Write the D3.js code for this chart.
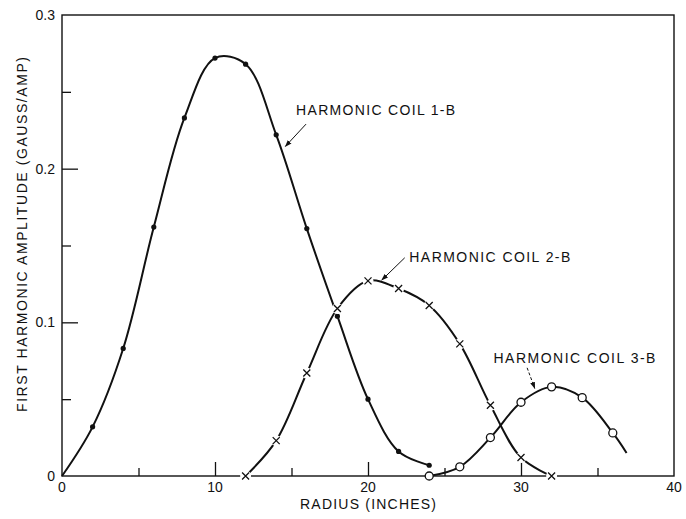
<!DOCTYPE html>
<html>
<head>
<meta charset="utf-8">
<script src="https://cdn.jsdelivr.net/npm/d3@7"></script>
<style>
  body { margin: 0; background: #fff; }
  svg text { font-family: "Liberation Sans", Arial, sans-serif; fill: #111; }
</style>
</head>
<body>
<svg id="chart"></svg>
<script>
// values
const coil1Radius = [0, 2, 4, 6, 8, 10, 12, 14, 16, 18, 20, 22, 24];
const coil1Amp = [0, 0.032, 0.083, 0.162, 0.233, 0.272, 0.268, 0.222, 0.161, 0.104, 0.050, 0.016, 0.007];
const coil1Marked = [false, true, true, true, true, true, true, true, true, true, true, true, true];

const coil2Radius = [12, 14, 16, 18, 20, 22, 24, 26, 28, 30, 32];
const coil2Amp = [0, 0.023, 0.067, 0.109, 0.127, 0.122, 0.111, 0.086, 0.046, 0.012, 0];

const coil3Radius = [24, 26, 28, 30, 32, 34, 36, 36.9];
const coil3Amp = [0, 0.006, 0.025, 0.048, 0.058, 0.051, 0.028, 0.015];
const coil3Marked = [true, true, true, true, true, true, true, false];

const xMajor = [0, 10, 20, 30, 40];
const xMinor = [5, 15, 25, 35];
const yMajor = [0, 0.1, 0.2, 0.3];
const yMinor = [0.05, 0.15, 0.25];
const yTickLabels = ['0', '0.1', '0.2', '0.3'];

// label text, anchor (data units) and arrow tail -> tip (data units)
const labels = [
  { text: 'HARMONIC COIL 1-B', at: [15.3, 0.235], len: 159, arrow: [[15.95, 0.229], [14.6, 0.2145]], dashed: false },
  { text: 'HARMONIC COIL 2-B', at: [22.7, 0.139], len: 161, arrow: [[22.4, 0.142], [20.9, 0.1275]], dashed: false },
  { text: 'HARMONIC COIL 3-B', at: [28.2, 0.0737], len: 162, arrow: [[30.4, 0.0704], [30.9, 0.057]], dashed: true }
];

const margin = { top: 15, right: 12, bottom: 43, left: 62 };
const width = 686 - margin.left - margin.right;
const height = 519 - margin.top - margin.bottom;

const x = d3.scaleLinear().domain([0, 40]).range([0, width]);
const y = d3.scaleLinear().domain([0, 0.3]).range([height, 0]);

const svg = d3.select('#chart')
  .attr('width', 686)
  .attr('height', 519);

svg.append('defs').append('marker')
  .attr('id', 'head')
  .attr('viewBox', '0 0 10 10')
  .attr('refX', 9)
  .attr('refY', 5)
  .attr('markerWidth', 7)
  .attr('markerHeight', 7)
  .attr('markerUnits', 'userSpaceOnUse')
  .attr('orient', 'auto')
  .append('path')
  .attr('d', 'M0,1.5 L10,5 L0,8.5 Z')
  .attr('fill', '#111');

const chart = svg.append('g')
  .attr('transform', `translate(${margin.left}, ${margin.top})`);

// frame
chart.append('rect')
  .attr('width', width)
  .attr('height', height)
  .attr('fill', 'none')
  .attr('stroke', '#111')
  .attr('stroke-width', 1.4);

// inward ticks
const xAxis = chart.append('g').attr('transform', `translate(0, ${height})`);
xAxis.call(d3.axisBottom(x).tickValues(xMajor.slice(1, -1)).tickSize(-14).tickFormat(''));
xAxis.call(g => g.append('g').call(d3.axisBottom(x).tickValues(xMinor).tickSize(-8).tickFormat('')));
xAxis.selectAll('.domain').remove();
xAxis.selectAll('line').attr('stroke', '#111').attr('stroke-width', 1.3);

const yAxis = chart.append('g');
yAxis.call(d3.axisLeft(y).tickValues(yMajor.slice(1, -1)).tickSize(-16).tickFormat(''));
yAxis.call(g => g.append('g').call(d3.axisLeft(y).tickValues(yMinor).tickSize(-9).tickFormat('')));
yAxis.selectAll('.domain').remove();
yAxis.selectAll('line').attr('stroke', '#111').attr('stroke-width', 1.3);

// tick labels
chart.selectAll('.xlab')
  .data(xMajor)
  .enter().append('text')
  .attr('x', d => x(d))
  .attr('y', height + 16)
  .attr('text-anchor', 'middle')
  .style('font-size', '14px')
  .text(d => d);

chart.selectAll('.ylab')
  .data(yMajor)
  .enter().append('text')
  .attr('x', -7)
  .attr('y', d => y(d) + 5)
  .attr('text-anchor', 'end')
  .style('font-size', '14px')
  .text((d, i) => yTickLabels[i]);

// axis titles
chart.append('text')
  .attr('x', x(20))
  .attr('y', height + 33)
  .attr('text-anchor', 'middle')
  .attr('textLength', 136)
  .attr('lengthAdjust', 'spacing')
  .style('font-size', '14px')
  .text('RADIUS (INCHES)');

chart.append('text')
  .attr('transform', `translate(${27 - margin.left}, ${234.5 - margin.top}) rotate(-90)`)
  .attr('text-anchor', 'middle')
  .attr('textLength', 355)
  .attr('lengthAdjust', 'spacing')
  .style('font-size', '14px')
  .text('FIRST HARMONIC AMPLITUDE (GAUSS/AMP)');

// curves
const line = d3.line()
  .x(d => x(d[0]))
  .y(d => y(d[1]))
  .curve(d3.curveCatmullRom.alpha(0.5));

const coil1 = coil1Radius.map((r, i) => [r, coil1Amp[i], coil1Marked[i]]);
const coil2 = coil2Radius.map((r, i) => [r, coil2Amp[i]]);
const coil3 = coil3Radius.map((r, i) => [r, coil3Amp[i], coil3Marked[i]]);

[coil1, coil2, coil3].forEach(data => {
  chart.append('path')
    .datum(data)
    .attr('d', line)
    .attr('fill', 'none')
    .attr('stroke', '#111')
    .attr('stroke-width', 2);
});

// coil 1: small solid dots
chart.selectAll('.dot1')
  .data(coil1.filter(d => d[2]))
  .enter().append('circle')
  .attr('cx', d => x(d[0]))
  .attr('cy', d => y(d[1]))
  .attr('r', 2.6)
  .attr('fill', '#111');

// coil 2: crosses with a gap in the line round them
const cross = chart.selectAll('.cross')
  .data(coil2)
  .enter().append('g')
  .attr('transform', d => `translate(${x(d[0])}, ${y(d[1])})`);

cross.append('circle')
  .attr('r', 5.5)
  .attr('fill', '#fff');

cross.append('path')
  .attr('d', 'M-3.5,-3.5 L3.5,3.5 M-3.5,3.5 L3.5,-3.5')
  .attr('stroke', '#111')
  .attr('stroke-width', 1.3);

// coil 3: open circles
chart.selectAll('.dot3')
  .data(coil3.filter(d => d[2]))
  .enter().append('circle')
  .attr('cx', d => x(d[0]))
  .attr('cy', d => y(d[1]))
  .attr('r', 4)
  .attr('fill', '#fff')
  .attr('stroke', '#111')
  .attr('stroke-width', 1.3);

// labels and arrows
labels.forEach(l => {
  chart.append('text')
    .attr('x', x(l.at[0]))
    .attr('y', y(l.at[1]))
    .attr('textLength', l.len)
    .attr('lengthAdjust', 'spacing')
    .style('font-size', '14px')
    .text(l.text);

  chart.append('line')
    .attr('x1', x(l.arrow[0][0]))
    .attr('y1', y(l.arrow[0][1]))
    .attr('x2', x(l.arrow[1][0]))
    .attr('y2', y(l.arrow[1][1]))
    .attr('stroke', '#111')
    .attr('stroke-width', 1)
    .attr('stroke-dasharray', l.dashed ? '3,2' : null)
    .attr('marker-end', 'url(#head)');
});
</script>
</body>
</html>
